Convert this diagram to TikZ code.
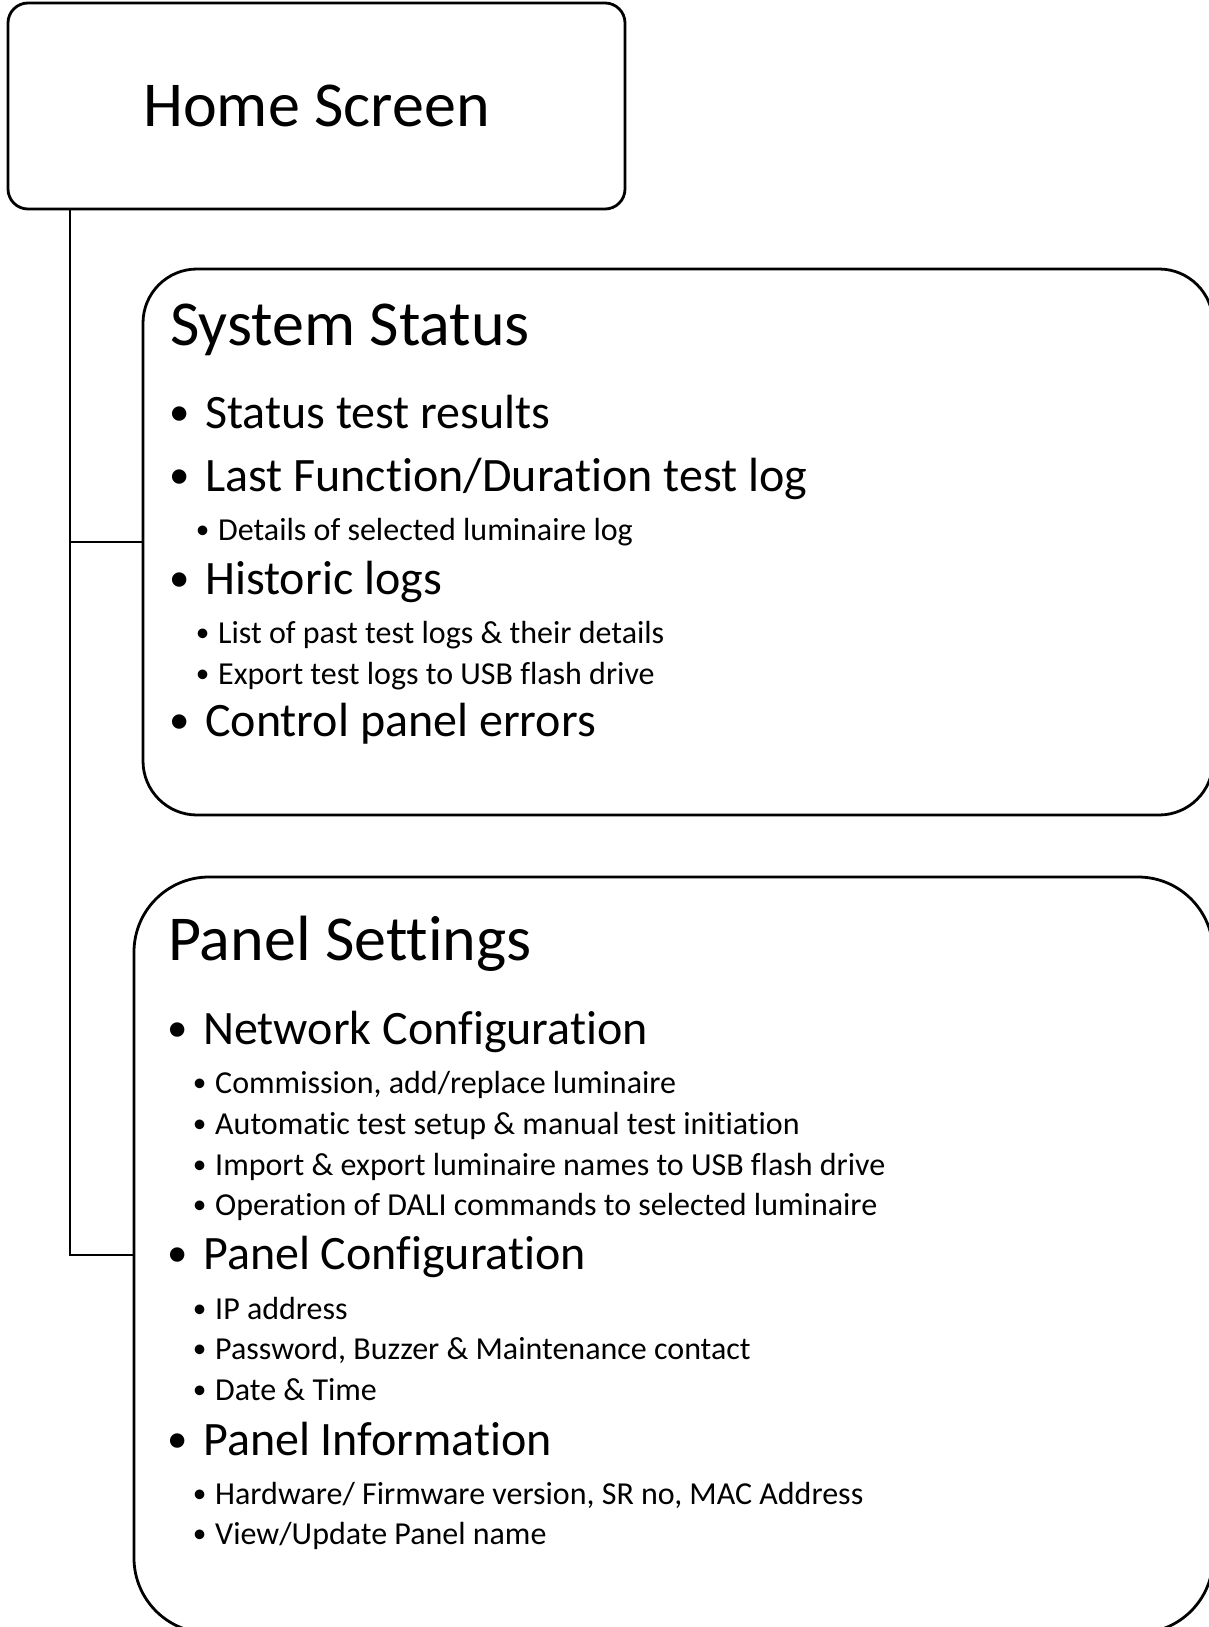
\documentclass[tikz,border=0pt]{standalone}
\usepackage{fontspec}
\setmainfont{Carlito}[Ligatures=NoCommon]
\usepackage{graphicx}
\usepackage{tikz}
\usetikzlibrary{shapes}
\usetikzlibrary{positioning}

\newcommand{\dotmark}{\raisebox{0.05em}{\scalebox{0.85}{•}}}
\newcommand{\bulA}{\llap{\makebox[51pt][c]{\dotmark}}}
\newcommand{\bulB}{\llap{\makebox[31pt][c]{\dotmark}}}

\begin{document}
\begin{tikzpicture}[x=1pt,y=-1pt]
\tikzstyle{line} = [draw, line width=2.8pt]
\tikzstyle{homebox} = [rectangle, draw, line width=2.8pt, rounded corners=20pt,
minimum width=617pt, minimum height=206pt, font=\fontsize{64}{68}\selectfont]
\tikzstyle{menubox} = [rectangle, draw, line width=2.8pt]
\tikzstyle{title} = [anchor=base west, inner sep=0pt, font=\fontsize{64}{68}\selectfont]
\tikzstyle{itemA} = [anchor=base west, inner sep=0pt, font=\fontsize{48}{52}\selectfont,
execute at begin node=\bulA]
\tikzstyle{itemB} = [anchor=base west, inner sep=0pt, font=\fontsize{32}{35}\selectfont,
execute at begin node=\bulB]
\useasboundingbox (0,0) rectangle (1209,1627);
\clip (0,0) rectangle (1209,1627);

% boxes
\node [homebox] (home) at (316.5,106) {Home Screen};
\node [menubox, rounded corners=54pt, minimum width=1070pt, minimum height=546pt]
  (status) at (678,542) {};
\node [menubox, rounded corners=75pt, minimum width=1079pt, minimum height=756pt]
  (settings) at (673.5,1255) {};

% system status
\node [title] (stitle) at (170,345) {System Status};
\node [itemA] (results) at (205,428) {Status test results};
\node [itemA] (lastlog) at (205,491) {Last Function/Duration test log};
\node [itemB] (details) at (218,540) {Details of selected luminaire log};
\node [itemA] (historic) at (205,594) {Historic logs};
\node [itemB] (pastlogs) at (218,643) {List of past test logs \& their details};
\node [itemB] (export) at (218,684) {Export test logs to USB flash drive};
\node [itemA] (errors) at (205,736) {Control panel errors};

% panel settings
\node [title] (ptitle) at (168,960) {Panel Settings};
\node [itemA] (network) at (203,1044) {Network Configuration};
\node [itemB] (commission) at (215,1093) {Commission, add/replace luminaire};
\node [itemB] (autotest) at (215,1134) {Automatic test setup \& manual test initiation};
\node [itemB] (names) at (215,1175) {Import \& export luminaire names to USB flash drive};
\node [itemB] (dali) at (215,1215) {Operation of DALI commands to selected luminaire};
\node [itemA] (pconfig) at (203,1269) {Panel Configuration};
\node [itemB] (ip) at (215,1319) {IP address};
\node [itemB] (password) at (215,1359) {Password, Buzzer \& Maintenance contact};
\node [itemB] (date) at (215,1400) {Date \& Time};
\node [itemA] (pinfo) at (203,1455) {Panel Information};
\node [itemB] (hardware) at (215,1504) {Hardware/ Firmware version, SR no, MAC Address};
\node [itemB] (pname) at (215,1544) {View/Update Panel name};

% tree lines
\coordinate (stem) at (70,209);
\draw [line] (stem) |- (status.west);
\draw [line] (stem) |- (settings.west);
\end{tikzpicture}
\end{document}
